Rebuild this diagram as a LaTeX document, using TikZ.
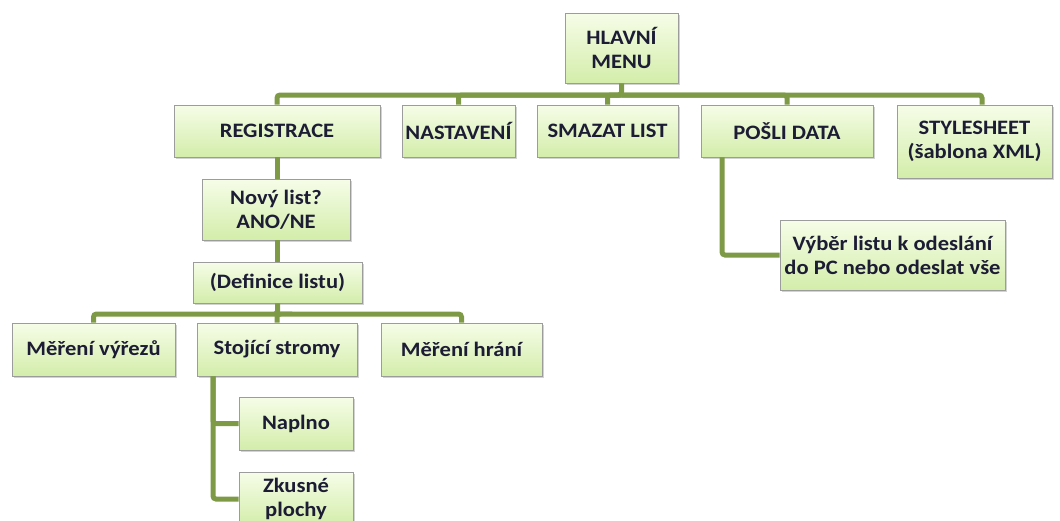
\documentclass[tikz,border=0pt]{standalone}
\usepackage{fontspec}
\setmainfont{Carlito}[FakeStretch=1.1]
\usetikzlibrary{shadows,calc}
\definecolor{wirec}{HTML}{7E9A47}
\definecolor{boxtop}{HTML}{F6FDE8}
\definecolor{boxbot}{HTML}{D3EDAA}
\definecolor{boxborder}{HTML}{9C9C9C}
\definecolor{txt}{HTML}{1C1C34}
\begin{document}
\begin{tikzpicture}[x=1pt,y=-1pt,
  box/.style={draw=boxborder, line width=0.8pt, top color=boxtop, bottom color=boxbot,
    font=\fontsize{20.5}{24}\selectfont\bfseries, text=txt, align=center, inner sep=0pt,
    drop shadow={shadow xshift=1.5pt,shadow yshift=-2pt,opacity=0.35}},
  wire/.style={draw=wirec, line width=5pt, rounded corners=3pt}]
\useasboundingbox[fill=white] (0,0) rectangle (1060,520);

\node[box, minimum width=113pt, minimum height=70pt] (menu) at (621.5,48) {HLAVNÍ\\MENU};
\node[box, minimum width=206pt, minimum height=52pt] (reg) at (277,131) {REGISTRACE};
\node[box, minimum width=113pt, minimum height=52pt] (nast) at (458.5,131) {NASTAVENÍ};
\node[box, minimum width=141pt, minimum height=52pt] (smaz) at (607.5,131) {SMAZAT LIST};
\node[box, minimum width=172pt, minimum height=52pt] (posli) at (787,131) {POŠLI DATA};
\node[box, minimum width=155pt, minimum height=73pt] (style) at (974.5,141.5) {STYLESHEET\\(šablona XML)};
\node[box, minimum width=225pt, minimum height=70pt] (vyber) at (892.5,255) {Výběr listu k odeslání\\do PC nebo odeslat vše};
\node[box, minimum width=148pt, minimum height=61pt] (novy) at (276,209.5) {Nový list?\\ANO/NE};
\node[box, minimum width=169pt, minimum height=41pt] (defin) at (277.5,282.5) {(Definice listu)};
\node[box, minimum width=163pt, minimum height=53pt] (mer1) at (93.5,349.5) {Měření výřezů};
\node[box, minimum width=160pt, minimum height=53pt] (stoj) at (277,349.5) {Stojící stromy};
\node[box, minimum width=161pt, minimum height=53pt] (mer2) at (461.5,349.5) {Měření hrání};
\node[box, minimum width=114pt, minimum height=53pt] (napl) at (296,423.5) {Naplno};
\node[box, minimum width=114pt, minimum height=54pt] (zkus) at (296,499) {Zkusné\\plochy};

\coordinate (b1) at (0,95);
\coordinate (b2) at (0,314);
\draw[wire] (menu.south) -- (menu.south |- b1) -| (reg.north);
\draw[wire] (menu.south |- b1) -| (nast.north);
\draw[wire] (menu.south |- b1) -| (smaz.north);
\draw[wire] (menu.south |- b1) -| (posli.north);
\draw[wire] (menu.south |- b1) -| ([xshift=7.5pt]style.north);
\draw[wire] (posli.south -| 722,0) |- (vyber.west);
\draw[wire] (reg.south) -- (reg.south |- novy.north);
\draw[wire] (novy.south -| reg.south) -- (defin.north -| reg.south);
\draw[wire] (defin.south) -- (defin.south |- b2) -| (mer1.north);
\draw[wire] (defin.south |- b2) -| (stoj.north);
\draw[wire] (defin.south |- b2) -| (mer2.north);
\draw[wire] (stoj.south -| 213,0) |- (napl.west);
\draw[wire] (stoj.south -| 213,0) |- (zkus.west);
\end{tikzpicture}
\end{document}
